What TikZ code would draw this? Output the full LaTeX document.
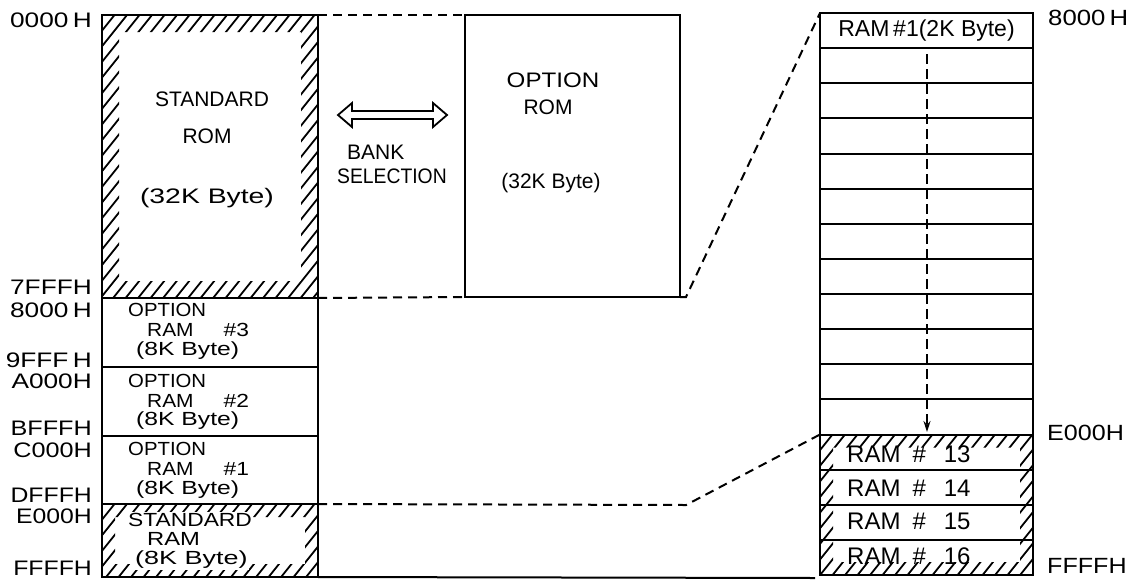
\documentclass[tikz,border=0pt]{standalone}
\usepackage{fontspec}
\setmainfont{Liberation Sans}
\usetikzlibrary{arrows.meta}
\newcommand\sx[2]{\scalebox{#1}[1]{#2}}
\newcommand\hatchband[5]{%
  \begin{scope}[even odd rule]
    \clip (#1,#2) rectangle (#3,#4) (#1+#5,#2+#5) rectangle (#3-#5,#4-#5);
    \pgfmathsetmacro\hh{#4-#2}
    \pgfmathsetmacro\hs{\hh/1.25}
    \pgfmathsetmacro\xs{#1-\hs}
    \pgfmathsetmacro\xn{\xs+12.5}
    \foreach \xx in {\xs,\xn,...,#3} \draw[hatch] (\xx,#4) -- ++(\hs,-\hh);
  \end{scope}}
\begin{document}
\begin{tikzpicture}[x=1pt,y=-1pt,
  blk/.style={draw, line width=2pt, inner sep=0pt, outer sep=0pt, anchor=north west},
  dsh/.style={line width=2pt, dash pattern=on 9pt off 6pt},
  hatch/.style={line width=1.8pt},
  txt/.style={font=\fontsize{19}{21}\selectfont, inner sep=0pt, anchor=west},
  big/.style={font=\fontsize{21}{22}\selectfont, inner sep=0pt},
  addr/.style={font=\fontsize{21}{23}\selectfont, inner sep=0pt, anchor=east},
  raddr/.style={font=\fontsize{22}{24}\selectfont, inner sep=0pt, anchor=west},
  ramt/.style={font=\fontsize{24}{26}\selectfont, inner sep=0pt, anchor=west}]
\useasboundingbox (0,0) rectangle (1142,581);
\fill[white] (0,0) rectangle (1142,581);

% hatching
\hatchband{102}{15}{318}{298}{17}
\hatchband{102}{504}{318}{577}{13}
\hatchband{820}{434.5}{1033}{575}{13}

% left column
\node[blk, minimum width=216pt, minimum height=283pt] (stdrom) at (102,15) {};
\node[blk, minimum width=216pt, minimum height=69pt] (oram3) at (102,298) {};
\node[blk, minimum width=216pt, minimum height=69pt] (oram2) at (102,367) {};
\node[blk, minimum width=216pt, minimum height=68pt] (oram1) at (102,436) {};
\node[blk, minimum width=216pt, minimum height=73pt] (stdram) at (102,504) {};

\node[big] (t1) at (212,99) {STANDARD};
\node[big] (t2) at (207,136) {ROM};
\node[big] (t3) at (207,198) {\sx{1.35}{(32K Byte)}};

\node[txt] (a1) at (128,310) {\sx{1.07}{OPTION}};
\node[txt] (a2) at (147,330) {\sx{1.1}{RAM}\hspace{30pt}\sx{1.2}{\#3}};
\node[txt] (a3) at (136,351) {\sx{1.3}{(8K Byte)}};
\node[txt] (b1) at (128,381) {\sx{1.07}{OPTION}};
\node[txt] (b2) at (147,401) {\sx{1.1}{RAM}\hspace{30pt}\sx{1.2}{\#2}};
\node[txt] (b3) at (136,421) {\sx{1.3}{(8K Byte)}};
\node[txt] (c1) at (128,449) {\sx{1.07}{OPTION}};
\node[txt] (c2) at (147,469) {\sx{1.1}{RAM}\hspace{30pt}\sx{1.2}{\#1}};
\node[txt] (c3) at (136,490) {\sx{1.3}{(8K Byte)}};
\node[txt, fill=white, inner sep=1pt] (d1) at (127,520) {\sx{1.2}{STANDARD}};
\node[txt, fill=white, inner sep=1pt] (d2) at (146,539) {\sx{1.25}{RAM}};
\node[txt, fill=white, inner sep=1pt] (d3) at (134,560) {\sx{1.42}{(8K Byte)}};

% left addresses
\node[addr] (l0) at (92,20) {\sx{1.25}{0000\,H}};
\node[addr] (l1) at (92,287) {\sx{1.25}{7FFFH}};
\node[addr] (l2) at (92,310) {\sx{1.25}{8000\,H}};
\node[addr] (l3) at (92,360) {\sx{1.25}{9FFF\,H}};
\node[addr] (l4) at (92,381) {\sx{1.25}{A000H}};
\node[addr] (l5) at (92,428) {\sx{1.2}{BFFFH}};
\node[addr] (l6) at (92,450) {\sx{1.2}{C000H}};
\node[addr] (l7) at (92,495) {\sx{1.18}{DFFFH}};
\node[addr] (l8) at (92,516) {\sx{1.18}{E000H}};
\node[addr] (l9) at (92,568) {\sx{1.18}{FFFFH}};

% option ROM
\node[blk, minimum width=215pt, minimum height=282pt] (optrom) at (465,15) {};
\node[big] (o1) at (553,80) {\sx{1.15}{OPTION}};
\node[big] (o2) at (548,107) {ROM};
\node[big] (o3) at (551,183) {(32K Byte)};

% bank selection arrow
\draw[line width=1.8pt, line join=miter]
  (338,115) -- (352,103) -- (352,111) -- (433,111) -- (433,103) -- (447,115)
  -- (433,127) -- (433,119) -- (352,119) -- (352,127) -- cycle;
\node[big, anchor=west] (bk1) at (347,152) {BANK};
\node[big, anchor=west] (bk2) at (337,176) {\sx{0.92}{SELECTION}};

% right column
\foreach \i in {1,...,16} {
  \pgfmathsetmacro\yy{13+(\i-1)*35.125}
  \node[blk, minimum width=213pt, minimum height=35.125pt] (r\i) at (820,\yy) {};
}
\node[font=\fontsize{23}{25}\selectfont, inner sep=0pt] (rt1) at (r1.center) {RAM\,\#1(2K Byte)};
\node[ramt] (rt13) at (847,454) {RAM\hspace{12pt}\#\hspace{18pt}13};
\node[ramt] (rt14) at (847,488) {RAM\hspace{12pt}\#\hspace{18pt}14};
\node[ramt] (rt15) at (847,521) {RAM\hspace{12pt}\#\hspace{18pt}15};
\node[ramt] (rt16) at (847,556) {RAM\hspace{12pt}\#\hspace{18pt}16};

\coordinate (ar1) at (927,54);
\coordinate (ar2) at (927,432);
\draw[line width=1.6pt, dash pattern=on 10pt off 5pt, -{Stealth[length=11pt,width=7pt]}] (ar1) -- (ar2);

\node[raddr] (ra1) at (1048,18) {\sx{1.17}{8000\,H}};
\node[raddr] (ra2) at (1047,433) {\sx{1.14}{E000H}};
\node[raddr] (ra3) at (1047,566) {\sx{1.14}{FFFFH}};

% connectors
\draw[dsh] (stdrom.north east) -- (optrom.north west);
\draw[dsh] (stdrom.south east) -- (optrom.south west);
\coordinate (k1) at (686,297);
\draw[dsh] (optrom.south east) -- (k1) -- (r1.north west);
\coordinate (k2) at (686,505);
\draw[dsh] (oram1.south east) -- (k2) -- (r13.north west);
\coordinate (k3) at (815,578);
\draw[line width=2pt] (stdram.south east) -- (k3);
\end{tikzpicture}
\end{document}
